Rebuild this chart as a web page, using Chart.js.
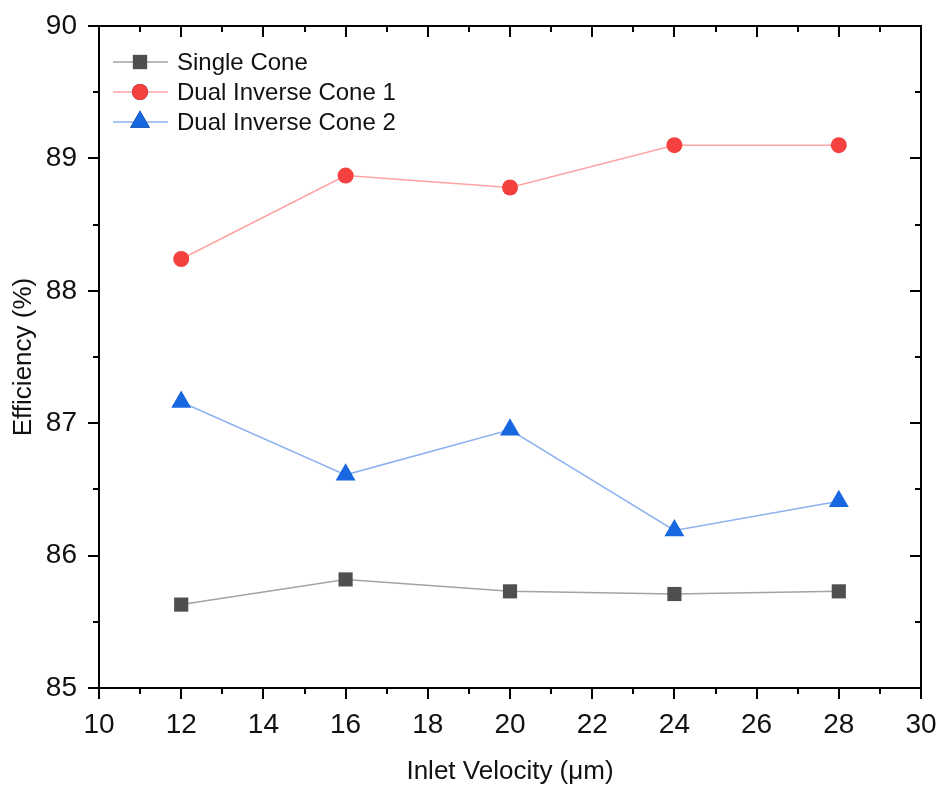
<!DOCTYPE html>
<html>
<head>
<meta charset="utf-8">
<script src="https://cdn.jsdelivr.net/npm/chart.js@4/dist/chart.umd.min.js"></script>
<style>
  html, body { margin: 0; padding: 0; background: #fff; }
  #wrap { width: 939px; height: 787px; }
</style>
</head>
<body>
<div id="wrap"><canvas id="chart" width="939" height="787"></canvas></div>
<script>
// data
const velocities = [12, 16, 20, 24, 28];
const singleCone = [85.63, 85.82, 85.73, 85.71, 85.73];
const dualCone1 = [88.24, 88.87, 88.78, 89.10, 89.10];
const dualCone2 = [87.16, 86.61, 86.95, 86.19, 86.41];
const seriesNames = ['Single Cone', 'Dual Inverse Cone 1', 'Dual Inverse Cone 2'];

const FONT = "'Liberation Sans', Arial, sans-serif";

function toPoints(ys) {
    return velocities.map((x, i) => ({ x: x, y: ys[i] }));
}

// keep the plot box where the reference has it
function noEdgePadding(s) {
    s.paddingLeft = 0; s.paddingRight = 0;
    s.paddingTop = 0; s.paddingBottom = 0;
}

// box frame + Origin-style major/minor ticks on all sides
const frameTicks = {
    id: 'frameTicks',
    afterDraw(chart) {
        const ctx = chart.ctx;
        const a = chart.chartArea;
        const xs = chart.scales.x, ys = chart.scales.y;
        ctx.save();
        ctx.strokeStyle = '#000';
        ctx.lineWidth = 2;
        ctx.strokeRect(a.left, a.top, a.right - a.left, a.bottom - a.top);
        ctx.beginPath();
        for (let v = 10; v <= 30; v += 1) {
            const px = Math.round(xs.getPixelForValue(v));
            const len = v % 2 === 0 ? 11 : 6;
            ctx.moveTo(px, a.bottom); ctx.lineTo(px, a.bottom + len);
            ctx.moveTo(px, a.top); ctx.lineTo(px, a.top + len);
        }
        for (let v = 85; v <= 90; v += 0.5) {
            const py = Math.round(ys.getPixelForValue(v));
            const len = Number.isInteger(v) ? 11 : 6;
            ctx.moveTo(a.left, py); ctx.lineTo(a.left - len, py);
            ctx.moveTo(a.right, py); ctx.lineTo(a.right - len, py);
        }
        ctx.stroke();
        ctx.restore();
    }
};

// legend inside the plot, line sample with marker in the middle
const innerLegend = {
    id: 'innerLegend',
    afterDraw(chart) {
        const ctx = chart.ctx;
        ctx.save();
        ctx.font = '24px ' + FONT;
        ctx.textBaseline = 'middle';
        chart.data.datasets.forEach((ds, i) => {
            const y = 62 + i * 30;
            ctx.strokeStyle = ds.borderColor;
            ctx.lineWidth = 1.5;
            ctx.beginPath();
            ctx.moveTo(113, y); ctx.lineTo(168, y);
            ctx.stroke();
            Chart.helpers.drawPoint(ctx, {
                pointStyle: ds.pointStyle,
                radius: ds.pointRadius,
                rotation: 0,
                borderWidth: 0
            }, 140, y);
            ctx.fillStyle = ds.pointBackgroundColor;
            ctx.fill();
            ctx.fillStyle = '#111';
            ctx.fillText(ds.label, 177, y + 1);
        });
        ctx.restore();
    }
};

new Chart(document.getElementById('chart'), {
    type: 'line',
    data: {
        datasets: [{
            label: seriesNames[0],
            data: toPoints(singleCone),
            borderColor: '#a3a3a3',
            borderWidth: 1.5,
            pointStyle: 'rect',
            pointRadius: 10,
            pointBackgroundColor: '#4f4f4f',
            pointBorderColor: '#4f4f4f',
            pointBorderWidth: 0
        }, {
            label: seriesNames[1],
            data: toPoints(dualCone1),
            borderColor: '#ffa3a3',
            borderWidth: 1.5,
            pointStyle: 'circle',
            pointRadius: 8,
            pointBackgroundColor: '#f4403f',
            pointBorderColor: '#f4403f',
            pointBorderWidth: 0
        }, {
            label: seriesNames[2],
            data: toPoints(dualCone2),
            borderColor: '#8cb2f0',
            borderWidth: 1.5,
            pointStyle: 'triangle',
            pointRadius: 11.5,
            pointBackgroundColor: '#1767e0',
            pointBorderColor: '#1767e0',
            pointBorderWidth: 0
        }]
    },
    options: {
        responsive: false,
        animation: false,
        layout: { autoPadding: false, padding: { top: 26, right: 18, left: 0, bottom: 0 } },
        plugins: {
            legend: { display: false },
            tooltip: { enabled: false }
        },
        scales: {
            x: {
                type: 'linear',
                min: 10,
                max: 30,
                afterFit: s => { s.height = 99; noEdgePadding(s); },
                grid: { display: false, drawTicks: false },
                border: { display: false },
                ticks: {
                    stepSize: 2,
                    padding: 20,
                    color: '#111',
                    font: { family: FONT, size: 28 }
                },
                title: {
                    display: true,
                    text: 'Inlet Velocity (\u03bcm)',
                    color: '#111',
                    font: { family: FONT, size: 26 },
                    padding: { top: 8, bottom: 0 }
                }
            },
            y: {
                min: 85,
                max: 90,
                afterFit: s => { s.width = 99; noEdgePadding(s); },
                grid: { display: false, drawTicks: false },
                border: { display: false },
                ticks: {
                    stepSize: 1,
                    padding: 22,
                    color: '#111',
                    font: { family: FONT, size: 28 }
                },
                title: {
                    display: true,
                    text: 'Efficiency (%)',
                    color: '#111',
                    font: { family: FONT, size: 26 },
                    padding: { top: 8, bottom: 4 }
                }
            }
        }
    },
    plugins: [frameTicks, innerLegend]
});
</script>
</body>
</html>
